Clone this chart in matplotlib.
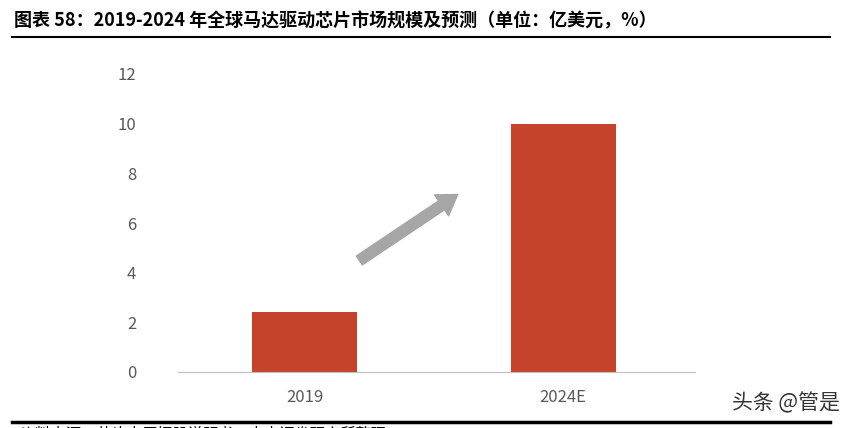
import matplotlib
matplotlib.use("Agg")
import matplotlib.pyplot as plt
from matplotlib.lines import Line2D

plt.rcParams['font.family'] = ['Noto Sans CJK SC', 'DejaVu Sans']

years = ["2019", "2024E"]
market = [2.4, 10.0]
yticks = [0, 2, 4, 6, 8, 10, 12]

W, H = 844, 428
fig = plt.figure(figsize=(W / 100, H / 100), dpi=100)
ax = fig.add_axes([178 / W, 1 - 372 / H, 517 / W, 298 / H])
ax.bar(range(len(years)), market, width=0.405, color="#c5432a")
ax.set_xlim(-0.49, 1.51)
ax.set_ylim(0, 12)
ax.set_yticks(yticks)
ax.set_xticks(range(len(years)))
ax.set_xticklabels(years)
for s in ("top", "right", "left"):
    ax.spines[s].set_visible(False)
ax.spines["bottom"].set_color("#bfbfbf")
ax.tick_params(axis="both", length=0, labelsize=12, colors="#595959", pad=12)
ax.tick_params(axis="y", pad=30)

# trend arrow
ax.annotate("", xy=(460 / W, 1 - 193 / H), xytext=(357 / W, 1 - 262 / H),
            xycoords="figure fraction", textcoords="figure fraction",
            arrowprops=dict(arrowstyle="simple,head_width=1.3,head_length=1.0,tail_width=0.55",
                            mutation_scale=14, fc="#a6a6a6", ec="#a6a6a6"))

fig.text(14 / W, 1 - 21 / H, "图表 58：2019-2024 年全球马达驱动芯片市场规模及预测（单位：亿美元，%）",
         fontsize=13, fontweight="bold", va="center", ha="left")
fig.add_artist(Line2D([12 / W, 830 / W], [1 - 37 / H] * 2, color="black", lw=1.5))
fig.add_artist(Line2D([12 / W, 830 / W], [1 - 422 / H] * 2, color="black", lw=2.5))
fig.text(20 / W, 1 - 434 / H, "资料来源：芯片大厂招股说明书，中山证券研究所整理",
         fontsize=11, va="center", ha="left")
fig.text(840 / W, 1 - 403 / H, "头条 @管是", fontsize=15, color="#333333",
         va="center", ha="right")

fig.savefig("out.png", dpi=100)
